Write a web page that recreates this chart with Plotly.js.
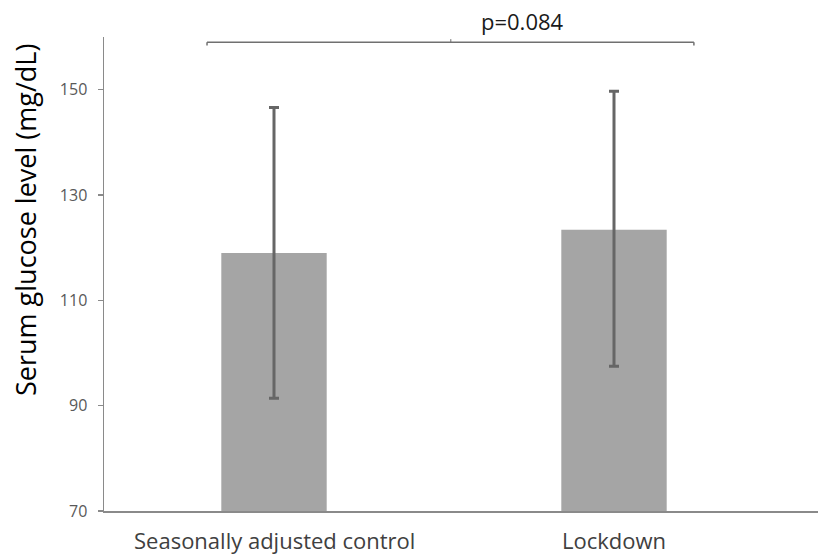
<!DOCTYPE html>
<html>
<head>
<meta charset="utf-8">
<script src="https://cdn.plot.ly/plotly-3.0.1.min.js"></script>
<style>html,body{margin:0;padding:0;background:#fff;}#chart{width:818px;height:556px;}</style>
</head>
<body>
<div id="chart"></div>
<script>
const categories = ["Seasonally adjusted control", "Lockdown"];
const meanValues = [119.0, 123.4];
const errorPlus = [27.6, 26.3];
const errorMinus = [27.6, 25.9];
const yTickValues = [70, 90, 110, 130, 150];
const pLabel = "p=0.084";
const bracketY = 159.0;
const bracketX = [-0.197, 1.235];
const bracketMid = 0.52;

const catIdx = categories.map((c, i) => i);

const trace = {
  type: 'bar',
  x: catIdx,
  y: meanValues,
  width: 0.31,
  marker: {color: '#a5a5a5'},
  error_y: {
    type: 'data', symmetric: false,
    array: errorPlus, arrayminus: errorMinus,
    color: '#666666', thickness: 3, width: 5
  },
  hoverinfo: 'none'
};

const layout = {
  width: 818, height: 556,
  margin: {l: 104, r: 0, t: 37, b: 45},
  paper_bgcolor: '#ffffff', plot_bgcolor: '#ffffff',
  showlegend: false,
  font: {family: 'Open Sans, sans-serif'},
  xaxis: {
    range: [-0.5, 1.6],
    tickvals: catIdx, ticktext: categories,
    showticklabels: false,
    showline: true, linecolor: '#8a8a8a', linewidth: 1.5,
    ticks: '', showgrid: false, zeroline: false, fixedrange: true
  },
  yaxis: {
    range: [70, 160],
    tickvals: yTickValues,
    showline: true, linecolor: '#8a8a8a', linewidth: 1.5,
    ticks: 'outside', ticklen: 5, tickcolor: '#8a8a8a', tickwidth: 1.5,
    tickfont: {family: 'Open Sans, sans-serif', size: 16, color: '#595959'},
    ticklabelstandoff: 7,
    showgrid: false, zeroline: false, fixedrange: true
  },
  annotations: [
    {
      xref: 'paper', yref: 'paper', x: -0.11, y: 0.615, xanchor: 'center', yanchor: 'middle',
      text: 'Serum glucose level (mg/dL)', textangle: -90, showarrow: false,
      font: {family: 'Open Sans, sans-serif', size: 27, color: '#000000'}
    },
    {
      xref: 'x', yref: 'y', x: 0.73, y: bracketY, yanchor: 'bottom', xanchor: 'center', yshift: 4,
      text: pLabel, showarrow: false,
      font: {family: 'Open Sans, sans-serif', size: 22, color: '#1a1a1a'}
    }
  ].concat(catIdx.map(i => ({
      xref: 'x', yref: 'paper', x: i, y: 0, yanchor: 'top', xanchor: 'center', yshift: -12,
      text: categories[i], showarrow: false,
      font: {family: 'Open Sans, sans-serif', size: 22, color: '#404040'}
  }))),
  shapes: [
    {type: 'line', xref: 'x', yref: 'y', x0: bracketX[0], x1: bracketX[1], y0: bracketY, y1: bracketY,
     line: {color: '#707070', width: 1.5}},
    {type: 'line', xref: 'x', yref: 'y', x0: bracketX[0], x1: bracketX[0], y0: bracketY, y1: bracketY - 0.6,
     line: {color: '#707070', width: 1.5}},
    {type: 'line', xref: 'x', yref: 'y', x0: bracketX[1], x1: bracketX[1], y0: bracketY, y1: bracketY - 0.6,
     line: {color: '#707070', width: 1.5}},
    {type: 'line', xref: 'x', yref: 'y', x0: bracketMid, x1: bracketMid, y0: bracketY, y1: bracketY + 0.6,
     line: {color: '#707070', width: 1}}
  ]
};

Plotly.newPlot('chart', [trace], layout, {displayModeBar: false, staticPlot: true});
</script>
</body>
</html>
